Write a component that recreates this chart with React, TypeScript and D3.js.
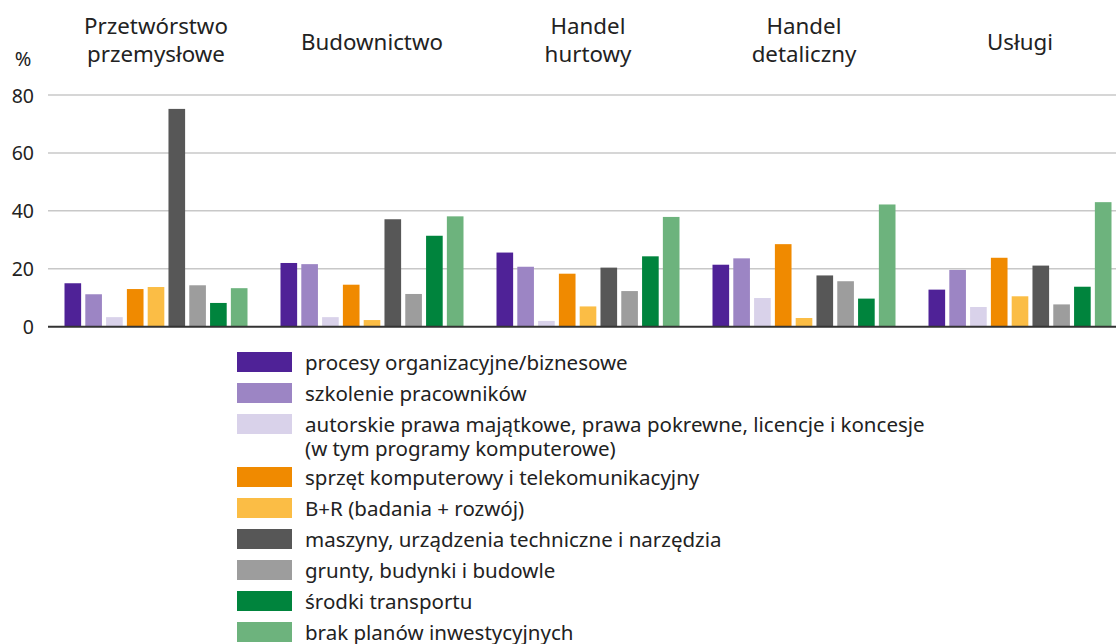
import * as d3 from "d3";

const WIDTH = 1116;
const HEIGHT = 644;

const sectors = [
    ["Przetwórstwo", "przemysłowe"],
    ["Budownictwo"],
    ["Handel", "hurtowy"],
    ["Handel", "detaliczny"],
    ["Usługi"],
];

const seriesLabels = [
    ["procesy organizacyjne/biznesowe"],
    ["szkolenie pracowników"],
    ["autorskie prawa majątkowe, prawa pokrewne, licencje i koncesje", "(w tym programy komputerowe)"],
    ["sprzęt komputerowy i telekomunikacyjny"],
    ["B+R (badania + rozwój)"],
    ["maszyny, urządzenia techniczne i narzędzia"],
    ["grunty, budynki i budowle"],
    ["środki transportu"],
    ["brak planów inwestycyjnych"],
];

const seriesColors = ["#4f2297", "#9c85c4", "#d9d2ea", "#f08a00", "#fbbd45", "#575757", "#9d9d9d", "#00843d", "#6db37d"];

// values per sector, in series order
const przetworstwo = [15.0, 11.2, 3.3, 13.0, 13.7, 75.2, 14.3, 8.2, 13.3];
const budownictwo = [22.0, 21.6, 3.3, 14.5, 2.3, 37.1, 11.3, 31.4, 38.1];
const hurtowy = [25.6, 20.7, 2.0, 18.3, 7.0, 20.4, 12.3, 24.3, 37.9];
const detaliczny = [21.4, 23.6, 9.9, 28.5, 3.0, 17.7, 15.7, 9.7, 42.2];
const uslugi = [12.8, 19.6, 6.8, 23.8, 10.5, 21.1, 7.7, 13.8, 43.0];
const values = [przetworstwo, budownictwo, hurtowy, detaliczny, uslugi];

const yTicks = [0, 20, 40, 60, 80];

const FONT = "'Noto Sans', sans-serif";
const TEXT = "#222";

export default function App() {
    const left = 48;
    const x = d3.scaleBand<number>().domain(d3.range(sectors.length)).range([left, left + 216 * 5]).padding(0);
    const inner = d3.scaleBand<number>().domain(d3.range(seriesColors.length)).range([16.5, 199.5]).paddingInner(0.2);
    const y = d3.scaleLinear().domain([0, 80]).range([326.7, 95]);

    const legendX = 237;
    const rowStep = 31;
    const extraLine = 22;
    const lineStep = 24;
    let legendY = 352;
    const legendRows = seriesLabels.map((lines, i) => {
        const top = legendY;
        legendY += rowStep + (lines.length - 1) * extraLine;
        return { lines, color: seriesColors[i], top };
    });

    return (
        <div style={{ position: "fixed", left: 0, top: 0, background: "#fff" }}>
            <svg width={WIDTH} height={HEIGHT} style={{ display: "block", fontFamily: FONT }}>
                {yTicks.map((t) => (
                    <g key={t}>
                        {t !== 0 && <line x1={left} x2={WIDTH} y1={y(t)} y2={y(t)} stroke="#c8c8c8" strokeWidth={1.5} />}
                        <text x={34} y={y(t)} textAnchor="end" dominantBaseline="central" fontSize={19.5} fill={TEXT}>
                            {t}
                        </text>
                    </g>
                ))}
                <text x={23} y={58} textAnchor="middle" dominantBaseline="central" fontSize={20} fill={TEXT}>
                    %
                </text>

                {sectors.map((lines, s) => {
                    const cx = (x(s) ?? 0) + x.bandwidth() / 2;
                    const y0 = lines.length === 1 ? 41 : 25;
                    return (
                        <text key={s} textAnchor="middle" fontSize={22.3} fill={TEXT}>
                            {lines.map((l, k) => (
                                <tspan key={k} x={cx} y={y0 + k * 28} dominantBaseline="central">
                                    {l}
                                </tspan>
                            ))}
                        </text>
                    );
                })}

                {values.map((row, s) =>
                    row.map((v, i) => (
                        <rect
                            key={`${s}-${i}`}
                            x={(x(s) ?? 0) + (inner(i) ?? 0)}
                            y={y(v)}
                            width={inner.bandwidth()}
                            height={y(0) - y(v)}
                            fill={seriesColors[i]}
                        />
                    ))
                )}

                <line x1={left} x2={WIDTH} y1={y(0)} y2={y(0)} stroke="#333" strokeWidth={2} />

                {legendRows.map((r, i) => (
                    <g key={i}>
                        <rect x={legendX} y={r.top} width={55} height={20} fill={r.color} />
                        {r.lines.map((l, k) => (
                            <text key={k} x={305} y={r.top + 10 + k * lineStep} dominantBaseline="central" fontSize={20.5} fill={TEXT}>
                                {l}
                            </text>
                        ))}
                    </g>
                ))}
            </svg>
        </div>
    );
}
